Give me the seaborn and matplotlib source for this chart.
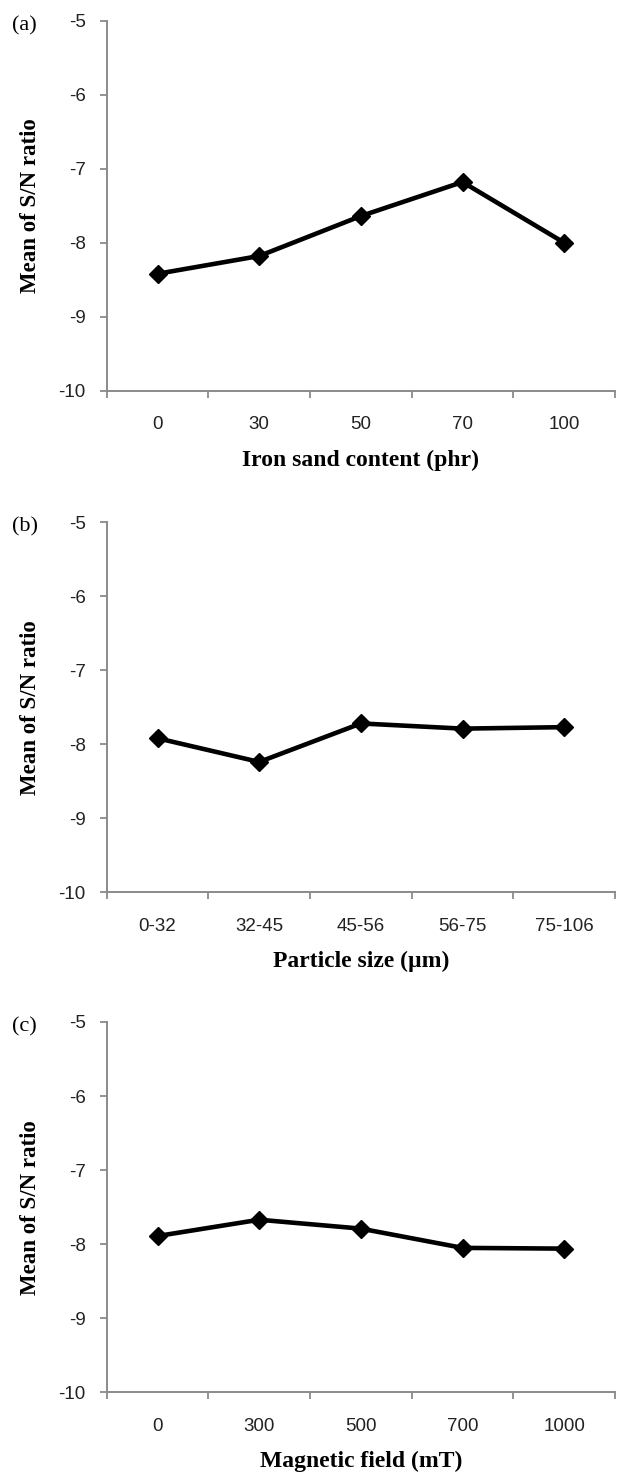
import matplotlib
matplotlib.use("Agg")
import matplotlib.pyplot as plt
import seaborn as sns
import pandas as pd
from matplotlib.ticker import FixedLocator

# ---- data ----
iron_sand_cats = ["0", "30", "50", "70", "100"]
iron_sand_sn = [-8.42, -8.18, -7.64, -7.18, -8.00]

particle_cats = ["0-32", "32-45", "45-56", "56-75", "75-106"]
particle_sn = [-7.92, -8.24, -7.72, -7.79, -7.77]

magnetic_cats = ["0", "300", "500", "700", "1000"]
magnetic_sn = [-7.89, -7.67, -7.79, -8.05, -8.06]

panel_tags = ["(a)", "(b)", "(c)"]
x_titles = ["Iron sand content (phr)", "Particle size (\u00b5m)", "Magnetic field (mT)"]
y_title = "Mean of S/N ratio"
y_ticks = [-10, -9, -8, -7, -6, -5]

sns.set_theme(style="white")
plt.rcParams["font.family"] = ["Liberation Sans", "DejaVu Sans"]
plt.rcParams["axes.unicode_minus"] = False

W, H = 618, 1474
fig = plt.figure(figsize=(W / 100, H / 100), dpi=100)

spine_col = "#8a8a8a"
# (top_px, bottom_px) of each axes
boxes = [(20.7, 390.7), (522.0, 892.3), (1022.0, 1392.3)]
left_px, right_px = 106.7, 615.0

datasets = [(iron_sand_cats, iron_sand_sn),
            (particle_cats, particle_sn),
            (magnetic_cats, magnetic_sn)]

for i, ((cats, vals), (top, bot)) in enumerate(zip(datasets, boxes)):
    ax = fig.add_axes([left_px / W, 1 - bot / H, (right_px - left_px) / W, (bot - top) / H])
    df = pd.DataFrame({"cat": cats, "val": vals})
    sns.pointplot(data=df, x="cat", y="val", order=cats, color="black",
                  markers="D", linestyles="-", markersize=9, linewidth=3.3,
                  markeredgewidth=1, errorbar=None, ax=ax)
    ax.set_xlim(-0.5, len(cats) - 0.5)
    ax.set_ylim(min(y_ticks), max(y_ticks))
    ax.set_yticks(y_ticks)
    ax.set_yticklabels([str(t) for t in y_ticks])
    ax.xaxis.set_minor_locator(FixedLocator([k - 0.5 for k in range(len(cats) + 1)]))
    ax.tick_params(axis="x", which="major", length=0, pad=18.5, labelsize=13.5, labelcolor="#222222")
    ax.tick_params(axis="x", which="minor", length=5, width=1.3, color=spine_col, bottom=True)
    ax.tick_params(axis="y", which="major", length=5, width=1.3, color=spine_col, pad=10,
                   labelsize=13.5, labelcolor="#222222", left=True)
    for s in ["top", "right"]:
        ax.spines[s].set_visible(False)
    for s in ["left", "bottom"]:
        ax.spines[s].set_color(spine_col)
        ax.spines[s].set_linewidth(1.4)
    ax.grid(False)
    ax.set_xlabel(x_titles[i], fontsize=17, fontweight="bold",
                  family=["Liberation Serif", "DejaVu Serif"], color="black")
    ax.xaxis.label.set_va("center")
    ax.xaxis.set_label_coords(0.5, -(460 - 390.7) / 370)
    ax.set_ylabel(y_title, fontsize=16.5, fontweight="bold",
                  family=["Liberation Serif", "DejaVu Serif"], color="black")
    ax.yaxis.label.set_va("center")
    ax.yaxis.set_label_coords((31 - left_px) / (right_px - left_px), 0.5)
    fig.text(12 / W, 1 - (top + 5) / H, panel_tags[i], fontsize=16,
             family=["Liberation Serif", "DejaVu Serif"], ha="left", va="center", color="black")

fig.savefig("out.png", dpi=100)
